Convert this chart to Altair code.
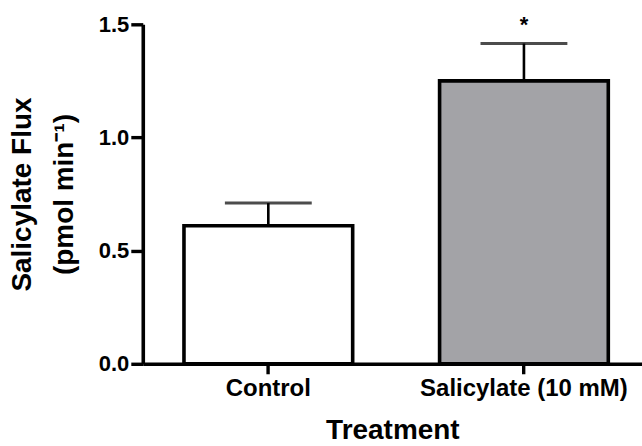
import altair as alt
import pandas as pd

# Salicylate flux by treatment (mean + SEM)
treatments = ["Control", "Salicylate (10 mM)"]
flux_mean = [0.61, 1.25]
flux_sem = [0.10, 0.165]
significance = ["", "*"]
bar_fills = ["#ffffff", "#a3a3a7"]
y_ticks = [0.0, 0.5, 1.0, 1.5]

df = pd.DataFrame({
    "treatment": treatments,
    "mean": flux_mean,
    "sem": flux_sem,
    "sig": significance,
})
df["upper"] = df["mean"] + df["sem"]

FONT = "Liberation Sans"

x_enc = alt.X(
    "treatment:N",
    sort=treatments,
    scale=alt.Scale(paddingInner=0.34, paddingOuter=0.1465, align=0.55),
    axis=alt.Axis(
        title="Treatment",
        labelAngle=0,
        labelLimit=0,
        titleY=53,
        titleBaseline="top",
    ),
)

y_scale = alt.Scale(domain=[0, 1.5], nice=False)

base = alt.Chart(df)

bars = base.mark_bar(stroke="black", strokeWidth=3.6).encode(
    x=x_enc,
    y=alt.Y(
        "mean:Q",
        scale=y_scale,
        axis=alt.Axis(
            title=["Salicylate Flux", "(pmol min\u207b\u00b9)"],
            values=y_ticks,
            format=".1f",
            titleX=-106,
            titleY=170,
            titleAlign="center",
        ),
    ),
    fill=alt.Fill(
        "treatment:N",
        scale=alt.Scale(domain=treatments, range=bar_fills),
        legend=None,
    ),
)

stems = base.mark_rule(color="black", strokeWidth=2.6).encode(
    x=alt.X("treatment:N", sort=treatments),
    y=alt.Y("mean:Q", scale=y_scale),
    y2="upper:Q",
)

caps = base.mark_tick(color="black", size=87, thickness=3).encode(
    x=alt.X("treatment:N", sort=treatments),
    y=alt.Y("upper:Q", scale=y_scale),
)

stars = base.mark_text(
    font=FONT, fontSize=22, fontWeight="bold", color="black",
    baseline="alphabetic", dy=-12,
).encode(
    x=alt.X("treatment:N", sort=treatments),
    y=alt.Y("upper:Q", scale=y_scale),
    text="sig:N",
)

chart = (
    alt.layer(bars, stems, caps, stars)
    .properties(
        width=500,
        height=340,
        autosize=alt.AutoSizeParams(type="none"),
        padding={"left": 143, "top": 24, "right": 0, "bottom": 82},
        background="white",
    )
    .configure_view(stroke=None)
    .configure_axis(
        grid=False,
        domainColor="black",
        domainWidth=3.6,
        tickColor="black",
        tickWidth=3.4,
        labelFont=FONT,
        labelFontWeight="bold",
        labelColor="black",
        titleFont=FONT,
        titleFontWeight="bold",
        titleColor="black",
    )
    .configure_axisX(
        labelFontSize=24,
        labelPadding=3,
        tickSize=10,
        titleFontSize=28,
    )
    .configure_axisY(
        labelFontSize=22,
        labelPadding=2,
        tickSize=12,
        titleFontSize=28,
        titleLineHeight=42,
    )
)

chart.save("out.html", embed_options={"renderer": "svg", "actions": False})
